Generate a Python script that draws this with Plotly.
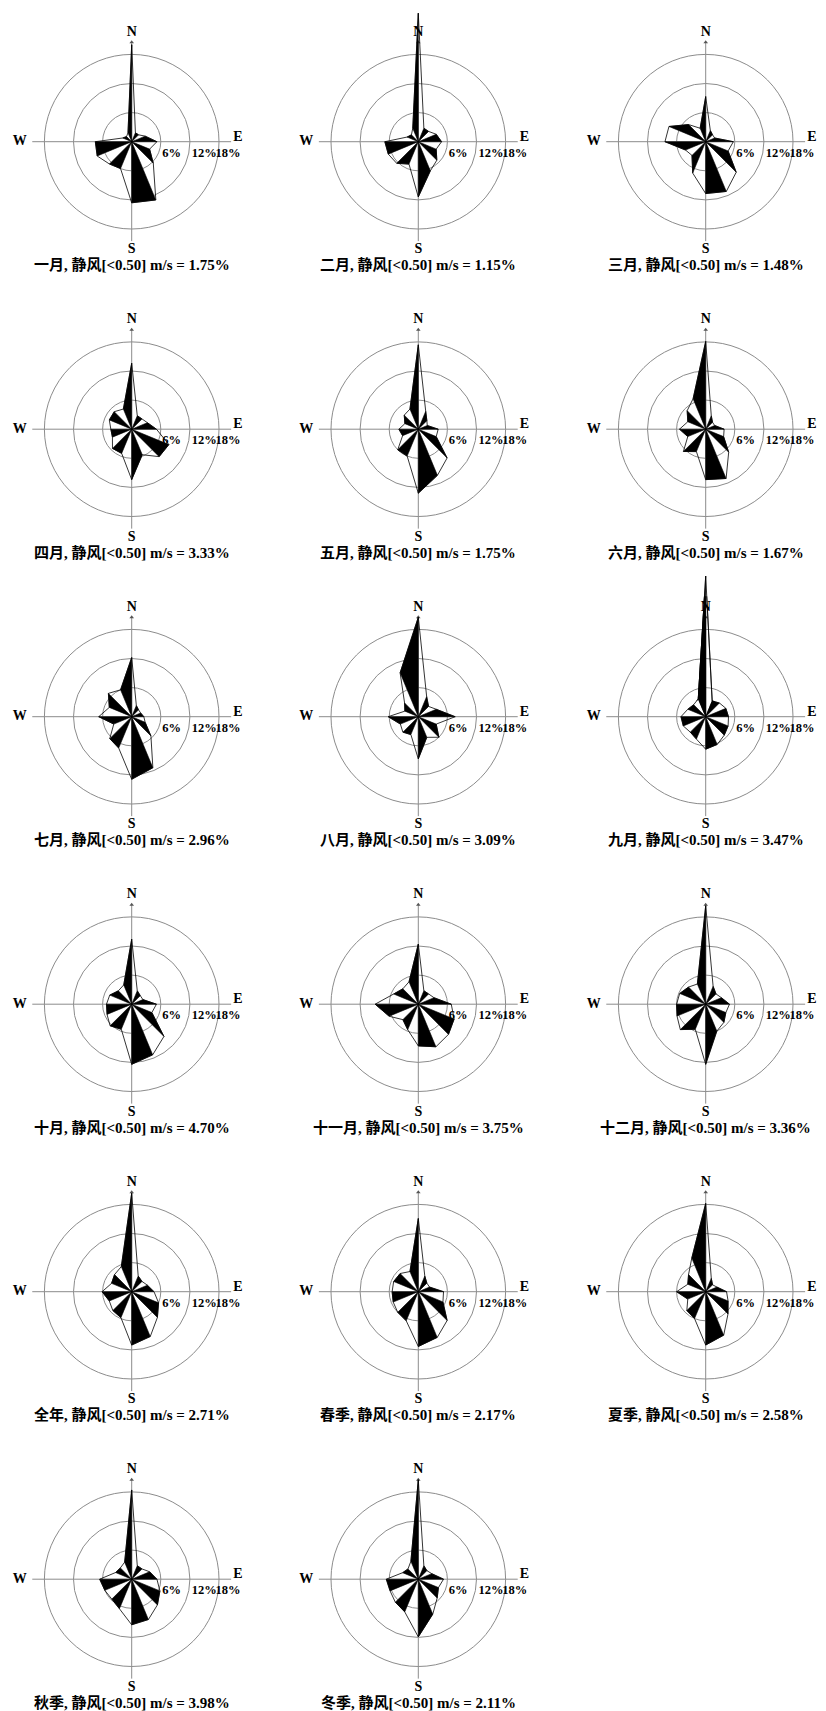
import math
import plotly.graph_objects as go

# ---------------- data ----------------
DIRECTIONS = ["N", "NNE", "NE", "ENE", "E", "ESE", "SE", "SSE",
              "S", "SSW", "SW", "WSW", "W", "WNW", "NW", "NNW"]
THETA = [i * 22.5 for i in range(16)]

jan = [20.0, 2.0, 2.0, 3.0, 5.2, 4.0, 6.3, 13.0, 12.6, 6.0, 6.5, 7.7, 7.5, 2.0, 1.5, 2.0]
feb = [26.5, 3.0, 3.0, 4.0, 4.8, 4.0, 5.4, 6.5, 11.4, 5.0, 6.3, 6.7, 6.9, 2.5, 2.0, 3.0]
mar = [9.3, 2.5, 2.0, 2.0, 5.7, 5.0, 8.9, 11.1, 10.7, 7.0, 4.0, 4.5, 8.4, 8.2, 5.0, 3.0]
apr = [13.6, 3.0, 3.0, 3.5, 5.1, 8.3, 8.0, 5.7, 10.4, 5.4, 5.6, 4.3, 4.3, 5.0, 5.1, 4.5]
may = [17.4, 4.0, 2.5, 2.0, 4.1, 4.0, 8.4, 10.3, 13.2, 6.0, 6.0, 3.5, 4.0, 3.0, 4.1, 4.5]
jun = [18.1, 3.0, 2.0, 2.0, 3.8, 4.0, 6.7, 11.0, 10.4, 5.0, 6.5, 4.0, 5.4, 4.0, 5.4, 6.8]
jul = [12.2, 2.5, 2.0, 2.0, 2.5, 3.0, 5.6, 11.4, 12.9, 7.0, 6.4, 4.0, 6.8, 5.0, 6.8, 6.0]
aug = [20.5, 4.5, 3.0, 4.0, 7.6, 4.0, 6.0, 4.6, 8.7, 4.0, 4.5, 4.0, 6.2, 3.0, 4.0, 9.8]
sep = [29.0, 3.5, 4.0, 4.5, 4.7, 5.0, 5.4, 6.2, 6.7, 5.0, 4.5, 5.0, 5.1, 4.0, 3.5, 4.0]
octo = [13.4, 3.0, 2.5, 2.5, 5.1, 4.5, 9.4, 11.3, 12.4, 5.6, 6.3, 5.5, 5.2, 4.9, 3.9, 4.3]
nov = [12.4, 3.0, 3.0, 3.5, 6.8, 8.0, 8.8, 9.5, 8.6, 5.7, 4.5, 6.5, 8.9, 5.5, 4.5, 5.0]
dec = [20.3, 4.0, 3.0, 3.5, 4.9, 4.5, 5.3, 6.0, 12.4, 5.6, 7.4, 6.4, 6.0, 5.8, 5.0, 4.5]
year = [20.3, 3.5, 3.0, 3.5, 4.6, 6.0, 7.5, 10.0, 11.0, 5.8, 5.5, 5.0, 6.1, 4.5, 5.0, 5.6]
spring = [15.1, 3.5, 2.5, 2.5, 5.2, 5.5, 8.4, 10.2, 11.3, 6.5, 6.0, 5.6, 5.4, 5.5, 5.3, 4.5]
summer = [18.2, 3.0, 2.0, 2.5, 4.3, 5.0, 6.5, 9.7, 11.0, 6.0, 5.5, 4.0, 6.0, 4.0, 5.0, 7.5]
autumn = [18.4, 3.0, 3.0, 4.0, 5.2, 6.3, 7.5, 9.0, 9.4, 6.6, 5.8, 6.0, 6.6, 3.6, 3.3, 3.8]
winter = [20.5, 3.0, 2.5, 3.0, 5.2, 4.5, 5.5, 7.8, 11.9, 7.3, 6.7, 6.3, 6.6, 3.5, 3.0, 4.0]

PERIODS = ["一月", "二月", "三月", "四月", "五月", "六月", "七月", "八月", "九月",
           "十月", "十一月", "十二月", "全年", "春季", "夏季", "秋季", "冬季"]
CALM = [1.75, 1.15, 1.48, 3.33, 1.75, 1.67, 2.96, 3.09, 3.47,
        4.70, 3.75, 3.36, 2.71, 2.17, 2.58, 3.98, 2.11]
ROSES = [jan, feb, mar, apr, may, jun, jul, aug, sep,
         octo, nov, dec, year, spring, summer, autumn, winter]

RING_VALUES = [6, 12, 18]
RING_LABELS = ["6%", "12%", "18%"]
RING_LABEL_AT = [6.3, 12.4, 17.3]
COMPASS = ["N", "S", "W", "E"]

# ---------------- layout constants ----------------
W, H = 826, 1711
PX_PER_PCT = 4.85
COL_X = [131.7, 418.3, 705.7]
ROW_Y0, ROW_DY = 141.7, 287.5
BASE_RANGE = 24.0
ARM = 20.5
LABEL_DROP_PX = 5.5
LATIN = "Liberation Serif, 'Times New Roman', 'Noto Sans CJK SC', serif"
TITLE_FONT = "Liberation Serif, 'Noto Sans CJK SC', serif"
GRID = "#8c8c8c"

fig = go.Figure()
layout_polars = {}
annotations = []
n_polar = 0


def new_polar(cx, cy, rng, sector=None):
    global n_polar
    n_polar += 1
    name = "polar" if n_polar == 1 else "polar%d" % n_polar
    R = rng * PX_PER_PCT
    if sector is None:
        x0, x1, y0, y1 = cx - R, cx + R, cy - R, cy + R
    else:  # top wedge sector [60,120]: bbox width R, height R, centre at bottom middle
        x0, x1, y0, y1 = cx - 0.5 * R, cx + 0.5 * R, cy - R, cy
    spec = dict(
        domain=dict(x=[max(0, x0 / W), min(1, x1 / W)],
                    y=[max(0, 1 - y1 / H), min(1, 1 - y0 / H)]),
        bgcolor="rgba(0,0,0,0)",
        radialaxis=dict(range=[0, rng], tickvals=RING_VALUES, showticklabels=False,
                        showline=False, ticks="", gridcolor=GRID, gridwidth=1,
                        showgrid=sector is None),
        angularaxis=dict(rotation=90, direction="clockwise", showgrid=False,
                         showline=False, showticklabels=False, ticks=""),
    )
    if sector is not None:
        spec["sector"] = sector
    layout_polars[name] = spec
    return name


def rose_traces(vals, sub):
    # outline polygon through all 16 tips
    fig.add_trace(go.Scatterpolar(
        r=vals + [vals[0]], theta=THETA + [THETA[0]], mode="lines",
        line=dict(color="black", width=0.8), subplot=sub,
        hoverinfo="skip", showlegend=False))
    # alternating black sectors: N-NNW, NE-NNE, E-ENE, SE-ESE, S-SSE, SW-SSW, W-WSW, NW-WNW
    rr, tt = [], []
    for i in range(0, 16, 2):
        j = (i - 1) % 16
        rr += [0, vals[i], vals[j], 0, None]
        tt += [THETA[i], THETA[i], THETA[j], THETA[i], None]
    fig.add_trace(go.Scatterpolar(
        r=rr, theta=tt, mode="lines", fill="toself", fillcolor="black",
        line=dict(color="black", width=0.6), subplot=sub,
        hoverinfo="skip", showlegend=False))


# ring label anchor points: just past each ring on the east arm, nudged below it
lab_r, lab_t = [], []
for v in RING_LABEL_AT:
    xpx = v * PX_PER_PCT
    lab_r.append(math.hypot(xpx, LABEL_DROP_PX) / PX_PER_PCT)
    lab_t.append(90 + math.degrees(math.atan2(LABEL_DROP_PX, xpx)))

for k, (vals, period, calm) in enumerate(zip(ROSES, PERIODS, CALM)):
    row, col = divmod(k, 3)
    cx, cy = COL_X[col], ROW_Y0 + row * ROW_DY
    need = max(vals) + 1.0
    fit = min(cx, W - cx, cy, H - cy) / PX_PER_PCT
    rng = min(max(BASE_RANGE, need), fit)
    sub = new_polar(cx, cy, rng)

    # compass arms
    fig.add_trace(go.Scatterpolar(
        r=[ARM, ARM, None, ARM, ARM], theta=[0, 180, None, 270, 90], mode="lines",
        line=dict(color=GRID, width=1), subplot=sub, hoverinfo="skip", showlegend=False))
    fig.add_trace(go.Scatterpolar(
        r=[ARM], theta=[0], mode="markers",
        marker=dict(symbol="triangle-up", size=4, color="#555"),
        subplot=sub, hoverinfo="skip", showlegend=False))

    rose_traces(vals, sub)

    # overflow of long petals beyond this subplot's range: extra wedge subplot
    if need > rng:
        big = need + 1.0
        sub2 = new_polar(cx, cy, big, sector=[60, 120])
        rose_traces(vals, sub2)

    # compass letters
    fig.add_trace(go.Scatterpolar(
        r=[22.6, 22.3, 23.1, 21.9], theta=[0, 180, 270, 87.5], mode="text",
        text=COMPASS, textposition="middle center",
        textfont=dict(family=LATIN, size=14, color="black", weight="bold"),
        subplot=sub, hoverinfo="skip", showlegend=False, cliponaxis=False))
    # ring labels
    fig.add_trace(go.Scatterpolar(
        r=lab_r, theta=lab_t, mode="text",
        text=RING_LABELS, textposition="bottom right",
        textfont=dict(family=LATIN, size=12.5, color="black", weight="bold"),
        subplot=sub, hoverinfo="skip", showlegend=False, cliponaxis=False))

    annotations.append(dict(
        x=cx / W, y=1 - (cy + 123) / H, xref="paper", yref="paper",
        xanchor="center", yanchor="middle", showarrow=False,
        text="%s, 静风[<0.50] m/s = %.2f%%" % (period, calm),
        font=dict(family=TITLE_FONT, size=15, color="black", weight="bold")))

fig.update_layout(
    width=W, height=H, margin=dict(l=0, r=0, t=0, b=0),
    paper_bgcolor="white", plot_bgcolor="white", showlegend=False,
    annotations=annotations, **layout_polars)

fig.write_html(
    "out.html",
    config={"displayModeBar": False, "staticPlot": True},
    post_script="document.body.style.margin='0px';document.body.style.overflow='hidden';")
